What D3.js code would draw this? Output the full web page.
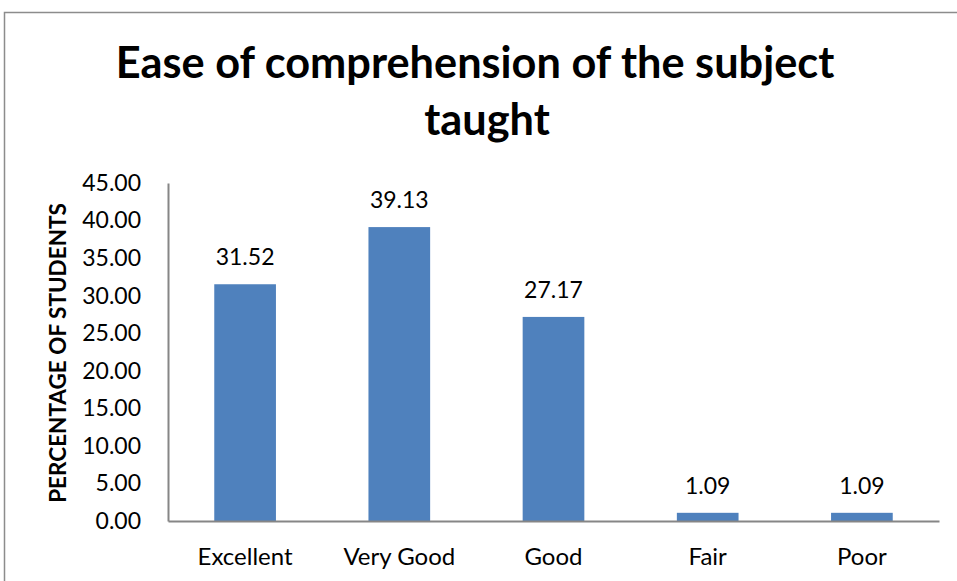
<!DOCTYPE html>
<html><head><meta charset="utf-8">
<script src="https://cdn.jsdelivr.net/npm/d3@7"></script>
<style>body{margin:0;background:#fff;} svg{display:block;}</style>
</head><body>
<script>
const categories = ["Excellent", "Very Good", "Good", "Fair", "Poor"];
const values = [31.52, 39.13, 27.17, 1.09, 1.09];
const yTicks = [0, 5, 10, 15, 20, 25, 30, 35, 40, 45];
const titleLines = ["Ease of comprehension of the subject", "taught"];
const yTitle = "PERCENTAGE OF STUDENTS";

const W = 957, H = 581;
const font = "Lato, 'Open Sans', sans-serif";
const svg = d3.select("body").append("svg").attr("width", W).attr("height", H);

svg.append("rect").attr("x", 4.5).attr("y", 12.5).attr("width", W + 10).attr("height", H + 10)
  .attr("fill", "none").attr("stroke", "#8c8c8c").attr("stroke-width", 1.5);

const x = d3.scaleBand().domain(categories).range([168, 939]).paddingInner(0.6).paddingOuter(0.3);
const y = d3.scaleLinear().domain([0, 45]).range([521, 183]);

// bars
svg.selectAll("rect.bar").data(values).enter().append("rect").attr("class", "bar")
  .attr("x", (d, i) => x(categories[i])).attr("width", x.bandwidth())
  .attr("y", d => y(d)).attr("height", d => y(0) - y(d)).attr("fill", "#4F81BD");

// data labels
svg.selectAll("text.lbl").data(values).enter().append("text").attr("class", "lbl")
  .attr("x", (d, i) => x(categories[i]) + x.bandwidth() / 2).attr("y", d => y(d) - 19)
  .attr("text-anchor", "middle").attr("font-family", font).attr("font-size", 23).attr("fill", "#000")
  .text(d => d.toFixed(2));

// y axis
const yAxis = d3.axisLeft(y).tickValues(yTicks).tickFormat(d => d.toFixed(2)).tickSize(0).tickPadding(27);
const gy = svg.append("g").attr("transform", "translate(168,0)").call(yAxis);
gy.select(".domain").attr("stroke", "#868686").attr("stroke-width", 2);
gy.selectAll("text").attr("font-family", font).attr("font-size", 23).attr("fill", "#000");

// x axis
const xAxis = d3.axisBottom(x).tickSize(0).tickPadding(27);
const gx = svg.append("g").attr("transform", "translate(0,521)").call(xAxis);
gx.select(".domain").attr("stroke", "#868686").attr("stroke-width", 2);
gx.selectAll("text").attr("font-family", font).attr("font-size", 24).attr("fill", "#000");

// y title
svg.append("text").attr("transform", "translate(66,353) rotate(-90)").attr("text-anchor", "middle")
  .attr("font-family", font).attr("font-weight", "bold").attr("font-size", 22.5).attr("fill", "#000")
  .text(yTitle);

// title
svg.selectAll("text.title").data(titleLines).enter().append("text").attr("class", "title")
  .attr("x", (d, i) => i === 0 ? 475 : 487).attr("y", (d, i) => i === 0 ? 78 : 135).attr("text-anchor", "middle")
  .attr("font-family", font).attr("font-weight", "bold").attr("font-size", 43.3).attr("fill", "#000")
  .text(d => d);
</script>
</body></html>
